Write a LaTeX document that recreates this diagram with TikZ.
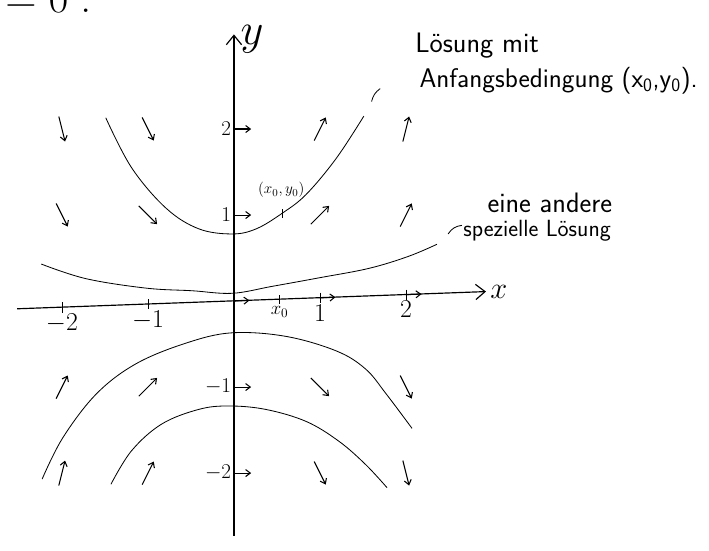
\RequirePackage{fix-cm}
\documentclass[tikz,border=0pt]{standalone}
\usetikzlibrary{arrows.meta}
\tikzset{
  achse/.style={-{Straight Barb[length=8pt,width=13pt]},line width=1pt},
  feld/.style={-{Straight Barb[length=4pt,width=6pt]},line width=0.9pt},
  kurve/.style={line width=0.7pt,smooth,tension=0.6},
  zahl/.style={font=\fontsize{22}{24}\selectfont},
  zahly/.style={font=\fontsize{18}{20}\selectfont},
  klein/.style={font=\fontsize{13}{15}\selectfont},
  beschr/.style={font=\sffamily\fontsize{24}{28}\selectfont}
}
\begin{document}
\begin{tikzpicture}[x=2.58cm,y=2.58cm]
\clip (-2.72,-2.895) rectangle (5.523,3.50);
% Rest der Zeile darueber
\node[font=\fontsize{37}{40}\selectfont,anchor=base west,inner sep=0pt] (oben) at (-2.66,3.36) {$=0:$};
% Achsen (x-Achse leicht schraeg)
\draw[achse] (-2.52,-0.09) -- (2.93,0.11) node[right,font=\fontsize{26}{28}\selectfont] (xl) {$x$};
\draw[achse] (0,-2.73) -- (0,3.1);
\node[anchor=west,font=\fontsize{38}{40}\selectfont,inner sep=1pt] (yl) at (0.06,3.04) {$y$};
\foreach \x in {-2,-1,1,2}
    \draw (\x,{0.037*\x+0.06}) -- ++(0,-0.12) node[zahl,below,inner sep=1pt] (lx\x) {$\x$};
\draw (0.53,0.07) -- ++(0,-0.1) node[below,inner sep=2pt,font=\fontsize{16}{18}\selectfont] (lx0) {$x_0$};
% Richtungsfeld y' = xy
\foreach \x in {0,1,2}
    \draw[feld] (\x,{0.037*\x}) -- ++(0.18,0.007);
\foreach \y in {-2,-1,1,2}
    \draw[feld] (0,\y) node[zahly,left,inner sep=2pt] (ly\y) {$\y$} -- ++(0.2,0);
\foreach \x in {-2,-1,1,2}
  \foreach \y in {-2,-1,1,2}
    \draw[feld] (\x,\y) ++({atan(\x*\y)+180}:0.15) -- ++({atan(\x*\y)}:0.3);
% Loesungskurven
\draw[kurve] plot coordinates {(-1.49,2.13) (-1.19,1.55) (-0.79,1.08) (-0.41,0.84)
  (-0.02,0.78) (0.26,0.84) (0.56,1.02) (0.84,1.24) (1.19,1.66) (1.51,2.15)};
\draw[kurve] plot coordinates {(-2.24,0.43) (-1.72,0.26) (-1.02,0.15) (-0.49,0.12)
  (-0.02,0.09) (0.44,0.17) (0.99,0.27) (1.57,0.38) (2.03,0.52) (2.36,0.66)};
\draw[kurve] plot coordinates {(-2.23,-2.07) (-1.99,-1.59) (-1.60,-1.08) (-1.14,-0.73)
  (-0.56,-0.49) (-0.03,-0.37) (0.60,-0.41) (1.19,-0.58) (1.53,-0.79) (1.77,-1.08) (2.07,-1.48)};
\draw[kurve] plot coordinates {(-1.43,-2.13) (-1.19,-1.74) (-0.84,-1.43) (-0.41,-1.26)
  (-0.06,-1.22) (0.37,-1.26) (0.84,-1.40) (1.22,-1.63) (1.53,-1.90) (1.78,-2.17)};
% Anfangspunkt
\coordinate (P) at (0.56,1.02);
\draw (0.56,0.97) -- (0.56,1.07);
\node[klein] (pl) at (0.55,1.29) {$(x_0,y_0)$};
% Beschriftung
\node[beschr,anchor=west] (l1) at (2.06,2.97) {Lösung mit};
\node[beschr,anchor=west,font=\sffamily\fontsize{23}{28}\selectfont] (l2) at (2.11,2.56) {Anfangsbedingung (x\textsubscript{0},y\textsubscript{0}).};
\draw[line width=0.7pt] (1.60,2.32) to[bend left=20] (1.70,2.47);
\node[beschr,anchor=west] (l3) at (2.90,1.14) {eine andere};
\node[beschr,anchor=west,font=\sffamily\fontsize{20}{24}\selectfont] (l4) at (2.62,0.82) {spezielle Lösung};
\draw[line width=0.7pt] (2.49,0.78) to[bend left=25] (2.65,0.88);
\end{tikzpicture}
\end{document}
